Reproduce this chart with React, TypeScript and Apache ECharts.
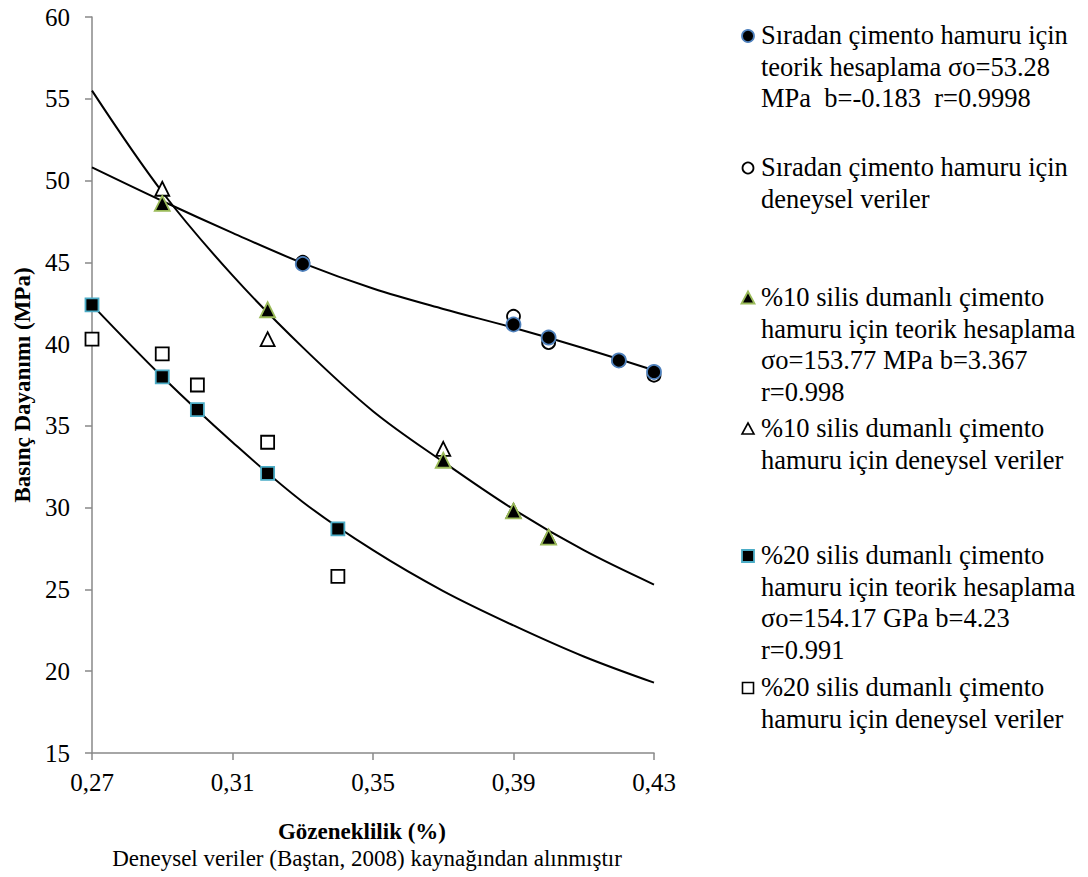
import React, { useEffect, useRef } from "react";
import * as echarts from "echarts";

// ---- data ----
const xTicks = [0.27, 0.31, 0.35, 0.39, 0.43];

// Ordinary cement paste
const ordX = [0.33, 0.39, 0.4, 0.42, 0.43];
const ordTheoY = [44.9, 41.2, 40.4, 39.0, 38.3];
const ordExpY = [45.0, 41.7, 40.1, 39.0, 38.1];
const ordCurveX = [0.27, 0.29, 0.31, 0.33, 0.35, 0.37, 0.39, 0.41, 0.43];
const ordCurveY = [50.8, 48.75, 46.8, 44.95, 43.4, 42.15, 41.0, 39.75, 38.4];

// 10 % silica fume
const sf10X = [0.29, 0.32, 0.37, 0.39, 0.4];
const sf10TheoY = [48.6, 42.1, 32.9, 29.8, 28.2];
const sf10ExpY = [49.5, 40.3, 33.6, 29.8, 28.2];
const sf10CurveX = [0.27, 0.29, 0.31, 0.33, 0.35, 0.37, 0.39, 0.41, 0.43];
const sf10CurveY = [55.5, 49.3, 44.2, 39.8, 35.9, 32.8, 29.9, 27.4, 25.3];

// 20 % silica fume
const sf20X = [0.27, 0.29, 0.3, 0.32, 0.34];
const sf20TheoY = [42.4, 38.0, 36.0, 32.1, 28.7];
const sf20ExpY = [40.3, 39.4, 37.5, 34.0, 25.8];
const sf20CurveX = [0.27, 0.29, 0.31, 0.33, 0.35, 0.37, 0.39, 0.41, 0.43];
const sf20CurveY = [42.4, 38.0, 34.0, 30.35, 27.4, 24.9, 22.8, 20.9, 19.3];

const legendTexts = [
  "Sıradan çimento hamuru için\nteorik hesaplama σo=53.28\nMPa  b=-0.183  r=0.9998",
  "Sıradan çimento hamuru için\ndeneysel veriler",
  "%10 silis dumanlı çimento\nhamuru için teorik hesaplama\nσo=153.77 MPa b=3.367\nr=0.998",
  "%10 silis dumanlı çimento\nhamuru için deneysel veriler",
  "%20 silis dumanlı çimento\nhamuru için teorik hesaplama\nσo=154.17 GPa b=4.23\nr=0.991",
  "%20 silis dumanlı çimento\nhamuru için deneysel veriler",
];

const yAxisTitle = "Basınç Dayanımı (MPa)";
const xAxisTitle = "Gözeneklilik (%)";
const footer = "Deneysel veriler (Baştan, 2008) kaynağından alınmıştır";

const FONT = "Liberation Serif, serif";
const BLUE = "#4F81BD";
const GREEN = "#9BBB59";
const TEAL = "#4BACC6";

const zip = (xs: number[], ys: number[]) => xs.map((x, i) => [x, ys[i]]);

export default function App() {
  const ref = useRef<HTMLDivElement>(null);
  useEffect(() => {
    if (!ref.current) return;
    const chart = echarts.init(ref.current, undefined, { renderer: "svg" });

    const curve = (xs: number[], ys: number[]) => ({
      type: "line",
      data: zip(xs, ys),
      smooth: 0.35,
      showSymbol: false,
      symbol: "none",
      lineStyle: { color: "#000", width: 2 },
      z: 1,
      silent: true,
    });

    const scatter = (
      xs: number[],
      ys: number[],
      symbol: string,
      size: number,
      fill: string,
      stroke: string,
      z: number
    ) => ({
      type: "scatter",
      data: zip(xs, ys),
      symbol,
      symbolSize: size,
      itemStyle: { color: fill, borderColor: stroke, borderWidth: 1.8, opacity: 1 },
      z,
    });

    const rich = {
      t: { fontFamily: FONT, fontSize: 25, color: "#000", lineHeight: 26 },
    };

    // legend via graphic
    const legendMarkerX = 748;
    const textX = 761;
    const lineH = 31.5;
    const firstLineY = [35, 167, 297, 428, 555, 687];
    const graphics: any[] = [];
    legendTexts.forEach((t, i) => {
      graphics.push({
        type: "text",
        left: textX,
        top: firstLineY[i] - lineH / 2,
        style: {
          text: t,
          font: `26.5px ${FONT}`,
          fill: "#000",
          lineHeight: lineH,
          textVerticalAlign: "top",
        },
      });
    });
    const r = 6;
    const mk = (i: number) => firstLineY[i] + 1;
    graphics.push(
      { type: "circle", shape: { cx: legendMarkerX, cy: mk(0), r }, style: { fill: "#000", stroke: BLUE, lineWidth: 1.8 } },
      { type: "circle", shape: { cx: legendMarkerX, cy: mk(1), r: r - 0.5 }, style: { fill: "#fff", stroke: "#000", lineWidth: 1.8 } },
      {
        type: "polygon",
        shape: { points: [[legendMarkerX, mk(2) - 6.5], [legendMarkerX + 6.5, mk(2) + 5.5], [legendMarkerX - 6.5, mk(2) + 5.5]] },
        style: { fill: "#000", stroke: GREEN, lineWidth: 1.8 },
      },
      {
        type: "polygon",
        shape: { points: [[legendMarkerX, mk(3) - 6], [legendMarkerX + 6, mk(3) + 5], [legendMarkerX - 6, mk(3) + 5]] },
        style: { fill: "#fff", stroke: "#000", lineWidth: 1.6 },
      },
      { type: "rect", shape: { x: legendMarkerX - 6, y: mk(4) - 6, width: 12, height: 12 }, style: { fill: "#000", stroke: TEAL, lineWidth: 1.8 } },
      { type: "rect", shape: { x: legendMarkerX - 5.5, y: mk(5) - 5.5, width: 11, height: 11 }, style: { fill: "#fff", stroke: "#000", lineWidth: 1.6 } }
    );
    graphics.push(
      {
        type: "text",
        x: 22,
        y: 385,
        rotation: Math.PI / 2,
        style: { text: yAxisTitle, font: `bold 23px ${FONT}`, fill: "#000", align: "center", verticalAlign: "middle" },
      },
      {
        type: "text",
        x: 362,
        y: 831,
        style: { text: xAxisTitle, font: `bold 23px ${FONT}`, fill: "#000", align: "center", verticalAlign: "middle" },
      },
      {
        type: "text",
        x: 367,
        y: 858,
        style: { text: footer, font: `23px ${FONT}`, fill: "#000", align: "center", verticalAlign: "middle" },
      }
    );

    chart.setOption({
      animation: false,
      backgroundColor: "#fff",
      textStyle: { fontFamily: FONT, fontSize: 25 },
      grid: { left: 92, right: 434, top: 17, bottom: 124, containLabel: false },
      xAxis: {
        type: "value",
        min: 0.27,
        max: 0.43,
        splitLine: { show: false },
        axisLine: { show: true, lineStyle: { color: "#898989", width: 1.5 } },
        axisTick: { show: true, customValues: xTicks, length: 7, inside: false, lineStyle: { color: "#898989", width: 1.5 } },
        axisLabel: {
          customValues: xTicks,
          formatter: (v: number) => `{t|${v.toFixed(2).replace(".", ",")}}`,
          rich,
          fontFamily: FONT,
          fontSize: 25,
          color: "#000",
          margin: 16,
        },
      },
      yAxis: {
        type: "value",
        min: 15,
        max: 60,
        interval: 5,
        splitLine: { show: false },
        axisLine: { show: true, lineStyle: { color: "#898989", width: 1.5 } },
        axisTick: { show: true, length: 7, inside: false, lineStyle: { color: "#898989", width: 1.5 } },
        axisLabel: {
          formatter: (v: number) => `{t|${v}}`,
          rich,
          fontFamily: FONT,
          fontSize: 25,
          color: "#000",
          margin: 22,
        },
      },
      graphic: graphics,
      series: [
        curve(ordCurveX, ordCurveY),
        curve(sf10CurveX, sf10CurveY),
        curve(sf20CurveX, sf20CurveY),
        scatter(ordX, ordExpY, "circle", 13, "#fff", "#000", 2),
        scatter(sf10X, sf10ExpY, "triangle", 14, "#fff", "#000", 2),
        scatter(sf20X, sf20ExpY, "rect", 13, "#fff", "#000", 2),
        scatter(ordX, ordTheoY, "circle", 14, "#000", BLUE, 3),
        scatter(sf10X, sf10TheoY, "triangle", 15, "#000", GREEN, 3),
        scatter(sf20X, sf20TheoY, "rect", 13, "#000", TEAL, 3),
      ],
    });
    return () => chart.dispose();
  }, []);
  return (
    <div
      ref={ref}
      style={{ position: "fixed", left: 0, top: 0, width: 1088, height: 877, background: "#fff" }}
    />
  );
}
